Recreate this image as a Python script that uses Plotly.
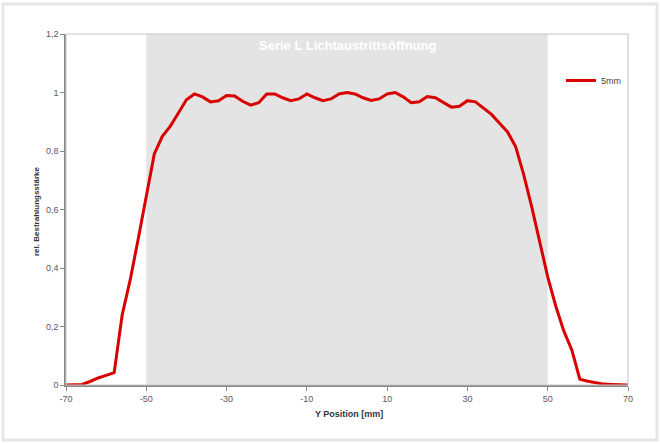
import plotly.graph_objects as go

# Data
y_position_mm = [-70, -68, -66, -64, -62, -60, -58, -56, -54, -52, -50, -48, -46, -44, -42,
                 -40, -38, -36, -34, -32, -30, -28, -26, -24, -22, -20, -18, -16, -14, -12,
                 -10, -8, -6, -4, -2, 0, 2, 4, 6, 8, 10, 12, 14, 16, 18,
                 20, 22, 24, 26, 28, 30, 32, 34, 36, 38, 40, 42, 44, 46, 48,
                 50, 52, 54, 56, 58, 60, 62, 64, 66, 68, 70]
rel_5mm = [0.0, 0.0, 0.002, 0.012, 0.024, 0.033, 0.042, 0.24, 0.36, 0.50, 0.65, 0.79, 0.85, 0.885, 0.93,
           0.975, 0.995, 0.985, 0.968, 0.972, 0.99, 0.988, 0.97, 0.957, 0.965, 0.995, 0.995, 0.982, 0.972, 0.978,
           0.995, 0.982, 0.972, 0.978, 0.995, 1.0, 0.995, 0.982, 0.973, 0.978, 0.995, 1.0, 0.985, 0.965, 0.968,
           0.986, 0.982, 0.965, 0.95, 0.953, 0.972, 0.968, 0.948, 0.925, 0.895, 0.865, 0.815, 0.72, 0.61, 0.49,
           0.37, 0.27, 0.185, 0.12, 0.02, 0.013, 0.008, 0.003, 0.002, 0.001, 0.0]
series_name = "5mm"
band_range = [-50, 50]
x_ticks = [-70, -50, -30, -10, 10, 30, 50, 70]
x_tick_labels = ["-70", "-50", "-30", "-10", "10", "30", "50", "70"]
y_ticks = [0, 0.2, 0.4, 0.6, 0.8, 1.0, 1.2]
y_tick_labels = ["0", "0,2", "0,4", "0,6", "0,8", "1", "1,2"]

W, H = 660, 443
L, R, T, B = 66, 32, 34, 58
pw, ph = W - L - R, H - T - B

def px(xp):
    return (xp - L) / pw

def py(yp):
    return (H - B - yp) / ph

FONT = "Liberation Sans, Arial, sans-serif"

fig = go.Figure()
fig.add_trace(go.Scatter(
    x=y_position_mm, y=rel_5mm, mode="lines", name=series_name,
    line=dict(color="#d90000", width=3),
))

shapes = [
    dict(type="rect", xref="x", yref="y", x0=band_range[0], x1=band_range[1], y0=0, y1=1.2,
         fillcolor="#e4e4e4", line=dict(width=0), layer="below"),
    dict(type="rect", xref="paper", yref="paper", x0=0, x1=1, y0=0, y1=1,
         line=dict(color="#c4c4c4", width=1), layer="above"),
    dict(type="rect", xref="paper", yref="paper", x0=px(3), x1=px(657), y0=py(440), y1=py(4),
         line=dict(color="#e6e6e6", width=3), layer="below"),
]

annotations = [
    dict(text="<b>Serie L Lichtaustrittsöffnung</b>", xref="paper", yref="paper",
         x=px(347), y=py(45), xanchor="center", yanchor="middle", showarrow=False,
         font=dict(family=FONT, size=13, color="white")),
    dict(text="<b>Y Position [mm]</b>", xref="paper", yref="paper",
         x=px(349), y=py(414), xanchor="center", yanchor="middle", showarrow=False,
         font=dict(family=FONT, size=9, color="#333333")),
    dict(text="<b>rel. Bestrahlungsstärke</b>", xref="paper", yref="paper",
         x=px(36), y=py(212), xanchor="center", yanchor="middle", showarrow=False, textangle=-90,
         font=dict(family=FONT, size=8, color="#333333")),
]

fig.update_layout(
    width=W, height=H,
    margin=dict(l=L, r=R, t=T, b=B, pad=0),
    paper_bgcolor="white", plot_bgcolor="white",
    font=dict(family=FONT, size=9, color="#595959"),
    showlegend=True,
    legend=dict(x=px(561), y=py(66), xanchor="left", yanchor="top",
                bgcolor="rgba(0,0,0,0)", font=dict(family=FONT, size=9, color="#444444"),
                itemwidth=30),
    shapes=shapes, annotations=annotations,
)
fig.update_xaxes(range=[-70, 70], tickvals=x_ticks, ticktext=x_tick_labels,
                 showgrid=False, zeroline=False,
                 showline=True, linecolor="#888888", linewidth=1.5,
                 ticks="outside", ticklen=4, tickcolor="#888888",
                 tickfont=dict(family=FONT, size=9, color="#595959"))
fig.update_yaxes(range=[0, 1.2], tickvals=y_ticks, ticktext=y_tick_labels,
                 showgrid=False, zeroline=False,
                 showline=True, linecolor="#888888", linewidth=1.5,
                 ticks="outside", ticklen=4, tickcolor="#888888",
                 tickfont=dict(family=FONT, size=9, color="#595959"))

fig.write_html("out.html", config={"displayModeBar": False},
               post_script="document.body.style.margin='0';document.body.style.overflow='hidden';")
